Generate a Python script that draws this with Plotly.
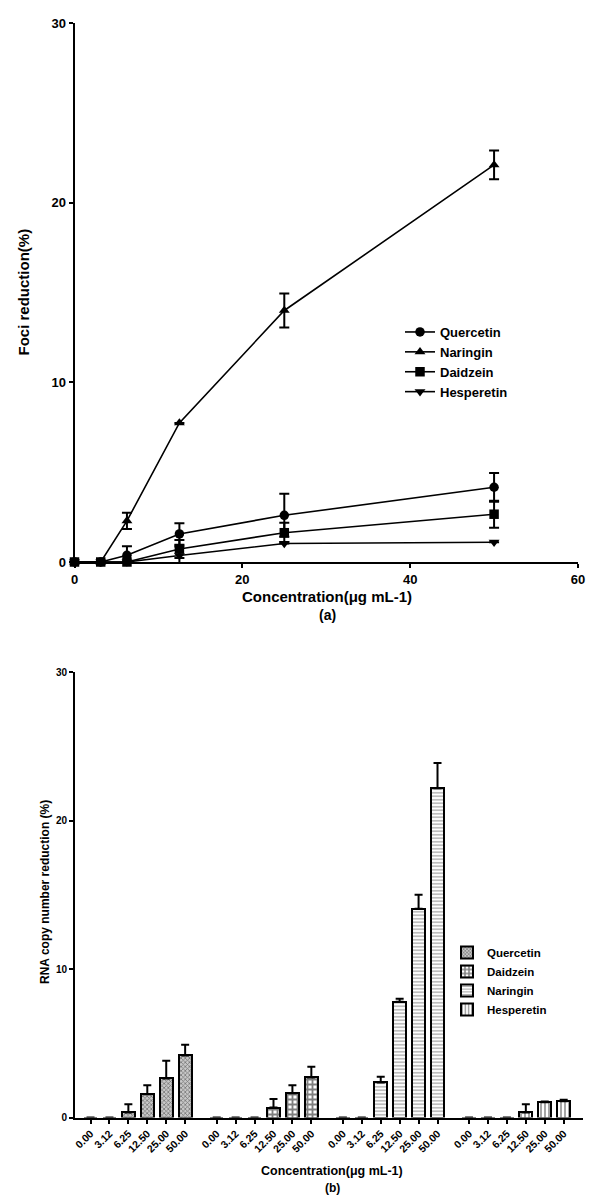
import plotly.graph_objects as go

# ---------------- data ----------------
conc = [0, 3.125, 6.25, 12.5, 25, 50]

quercetin = [0, 0, 0.37, 1.56, 2.6, 4.16]
quercetin_err = [0, 0, 0.5, 0.6, 1.2, 0.8]
naringin = [0, 0, 2.29, 7.74, 14.0, 22.1]
naringin_err = [0, 0, 0.45, 0, 0.95, 0.8]
daidzein = [0, 0, 0, 0.72, 1.63, 2.66]
daidzein_err = [0, 0, 0, 0.5, 0.55, 0.75]
hesperetin = [0, 0, 0, 0.36, 1.03, 1.1]
hesperetin_err = [0, 0, 0, 0.5, 0, 0]

bar_labels = ["0.00", "3.12", "6.25", "12.50", "25.00", "50.00"]
bar_quercetin = [0, 0, 0.34, 1.57, 2.63, 4.18]
bar_quercetin_err = [0, 0, 0.56, 0.61, 1.19, 0.72]
bar_daidzein = [0, 0, 0, 0.67, 1.64, 2.7]
bar_daidzein_err = [0, 0, 0, 0.57, 0.54, 0.72]
bar_naringin = [0, 0, 2.36, 7.8, 14.05, 22.17]
bar_naringin_err = [0, 0, 0.38, 0.2, 0.95, 1.71]
bar_hesperetin = [0, 0, 0, 0.34, 1.03, 1.1]
bar_hesperetin_err = [0, 0, 0, 0.56, 0.05, 0.1]

FONT = "Liberation Sans, Arial, sans-serif"
fig = go.Figure()

# ---------------- top line chart ----------------
line_series = [
    ("Hesperetin", hesperetin, hesperetin_err, "triangle-down", 4),
    ("Naringin", naringin, naringin_err, "triangle-up", 2),
    ("Quercetin", quercetin, quercetin_err, "circle", 1),
    ("Daidzein", daidzein, daidzein_err, "square", 3),
]
for name, ys, es, sym, rank in line_series:
    fig.add_trace(go.Scatter(
        x=conc, y=ys, name=name, mode="lines+markers",
        line=dict(color="black", width=1.6),
        marker=dict(symbol=sym, size=9.5, color="black"),
        error_y=dict(type="data", array=es, visible=True, color="black",
                     thickness=2, width=5),
        cliponaxis=False, legendrank=rank, legend="legend",
        xaxis="x", yaxis="y",
    ))

# ---------------- bottom bar chart ----------------
group_offsets = [0, 6.667, 13.333, 20.0]
bar_series = [
    ("Quercetin", bar_quercetin, bar_quercetin_err,
     dict(shape="x", size=3, solidity=0.45, fgcolor="#222", bgcolor="#c8c8c8")),
    ("Daidzein", bar_daidzein, bar_daidzein_err,
     dict(shape="+", size=5, solidity=0.6, fgcolor="black", bgcolor="white")),
    ("Naringin", bar_naringin, bar_naringin_err,
     dict(shape="-", size=3.5, solidity=0.35, fgcolor="#444", bgcolor="white")),
    ("Hesperetin", bar_hesperetin, bar_hesperetin_err,
     dict(shape="|", size=4, solidity=0.35, fgcolor="black", bgcolor="white")),
]
tickvals = []
ticktext = []
for (name, ys, es, pat), off in zip(bar_series, group_offsets):
    xs = [off + i for i in range(len(ys))]
    tickvals += xs
    ticktext += bar_labels
    fig.add_trace(go.Bar(
        x=xs, y=ys, name=name, width=0.7,
        marker=dict(color="white", line=dict(color="black", width=2),
                    pattern=pat),
        error_y=dict(type="data", symmetric=False, array=es,
                     arrayminus=[0] * len(es), visible=True, color="black",
                     thickness=2, width=4),
        legend="legend2", xaxis="x2", yaxis="y2",
    ))

# the page body adds an 8px offset: layout positions are (screen px - 8)
W, H = 600, 1200
axis_common = dict(showline=True, linecolor="black", linewidth=2, ticks="outside",
                   ticklen=4, tickwidth=1.5, tickcolor="black", showgrid=False,
                   zeroline=False, automargin=False,
                   tickfont=dict(family=FONT, size=13, color="black", weight="bold"))


def tf(size):
    return dict(family=FONT, size=size, color="black", weight="bold")


fig.update_layout(
    width=W, height=H, margin=dict(l=0, r=0, t=0, b=0),
    paper_bgcolor="white", plot_bgcolor="white",
    showlegend=True,
    xaxis=dict(domain=[66.5 / W, 570 / W], range=[0, 60], tickvals=[0, 20, 40, 60],
               anchor="y", **axis_common),
    yaxis=dict(domain=[1 - 554 / H, 1 - 15 / H], range=[0, 30], tickvals=[0, 10, 20, 30],
               anchor="x", **axis_common),
    xaxis2=dict(domain=[67 / W, 575 / W], range=[-0.82, 26.02], tickvals=tickvals,
                ticktext=ticktext, tickangle=-45, anchor="y2",
                **{**axis_common, "tickfont": tf(10.5)}),
    yaxis2=dict(domain=[1 - 1109.5 / H, 1 - 664 / H], range=[0, 30], tickvals=[0, 10, 20, 30],
                anchor="x2",
                **{**axis_common, "tickfont": tf(10)}),
    legend=dict(x=392 / W, y=1 - 309 / H, xanchor="left", yanchor="top",
                bgcolor="rgba(0,0,0,0)", tracegroupgap=0, itemwidth=30,
                font=tf(13)),
    legend2=dict(x=439 / W, y=1 - 930 / H, xanchor="left", yanchor="top",
                 bgcolor="rgba(0,0,0,0)", tracegroupgap=0, itemwidth=30,
                 font=tf(11.5)),
    bargap=0,
)

annotations = [
    dict(text="Concentration(μg mL-1)", x=319 / W, y=1 - 588 / H, font=tf(15)),
    dict(text="(a)", x=319 / W, y=1 - 607 / H, font=tf(14)),
    dict(text="Foci reduction(%)", x=15 / W, y=1 - 284.5 / H, textangle=-90, font=tf(15)),
    dict(text="Concentration(μg mL-1)", x=324 / W, y=1 - 1163 / H, font=tf(12.5)),
    dict(text="(b)", x=324 / W, y=1 - 1180 / H, font=tf(12)),
    dict(text="RNA copy number reduction (%)", x=37 / W, y=1 - 884 / H, textangle=-90,
         font=tf(12)),
]
for a in annotations:
    fig.add_annotation(xref="paper", yref="paper", showarrow=False,
                       xanchor="center", yanchor="middle", **a)

fig.write_html("out.html")
